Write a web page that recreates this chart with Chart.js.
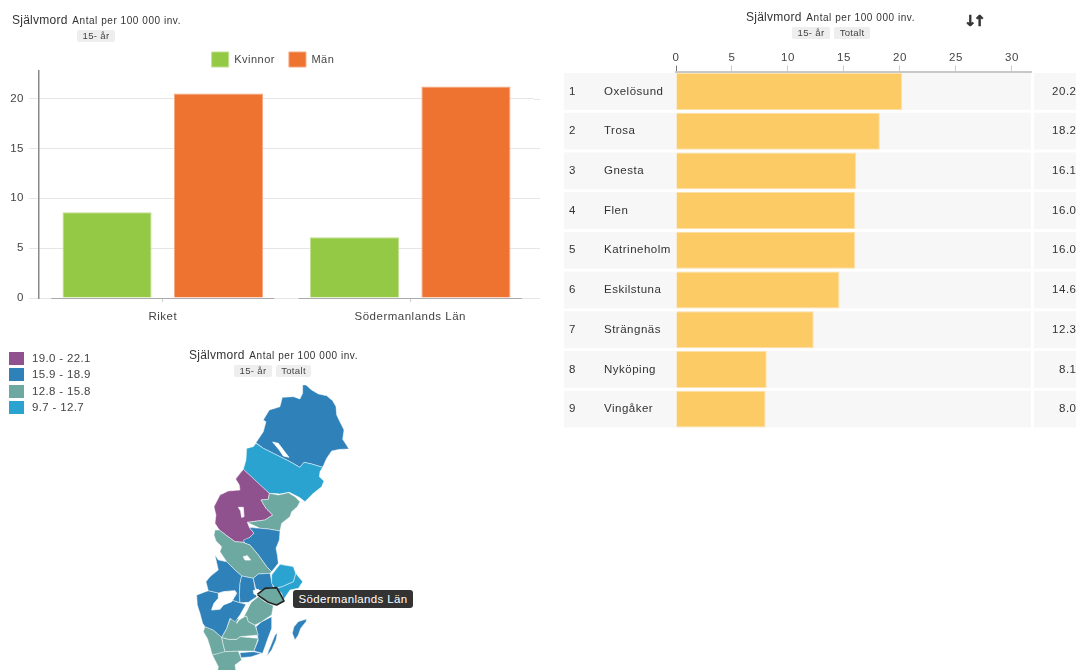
<!DOCTYPE html>
<html><head><meta charset="utf-8">
<script src="https://cdn.jsdelivr.net/npm/chart.js@4/dist/chart.umd.min.js"></script>
<style>
html,body{margin:0;padding:0;background:#fff;overflow:hidden}
#page{position:relative;width:1076px;height:670px;overflow:hidden;font-family:"Liberation Sans",Arial,sans-serif;color:#333;filter:blur(.35px)}
canvas{position:absolute}
.t{position:absolute;white-space:nowrap;letter-spacing:.25px}
.big{font-size:12px}.small{font-size:10px;letter-spacing:.55px}
.chip{position:absolute;background:#eee;border-radius:2px;font-size:9.6px;text-align:center;letter-spacing:.3px;height:12px;line-height:12px;color:#444}
.sw{position:absolute;width:15px;height:13px;left:9px}
.lg{position:absolute;left:32px;font-size:11.5px;letter-spacing:.35px;color:#444}
#tip{position:absolute;left:293px;top:590px;width:120px;height:18px;line-height:18px;background:#333;border-radius:3px;color:#fff;font-size:11.5px;text-align:center;letter-spacing:.35px}
#sort{position:absolute;left:964px;top:12px;font:bold 15px "DejaVu Sans";letter-spacing:-3px;color:#333;-webkit-text-stroke:.6px #333}
</style></head><body>
<div id="page">
<canvas id="bars" width="540" height="300" style="left:0;top:38px"></canvas>
<canvas id="rank" width="516" height="440" style="left:560px;top:0"></canvas>
<canvas id="map" width="240" height="295" style="left:180px;top:375px"></canvas>
<div class="t" style="left:12px;top:10px"><span class="big">Självmord</span> <span class="small">Antal per 100 000 inv.</span></div>
<div class="chip" style="left:77px;top:30px;width:38px">15- år</div>
<div class="t" style="left:746px;top:7px"><span class="big">Självmord</span> <span class="small">Antal per 100 000 inv.</span></div>
<div class="chip" style="left:792px;top:27px;width:38px">15- år</div>
<div class="chip" style="left:834px;top:27px;width:36px">Totalt</div>
<div id="sort">↓↑</div>
<div class="t" style="left:189px;top:345px"><span class="big">Självmord</span> <span class="small">Antal per 100 000 inv.</span></div>
<div class="chip" style="left:234px;top:365px;width:38px">15- år</div>
<div class="chip" style="left:276px;top:365px;width:35px">Totalt</div>
<div id="legend"></div>
<div id="tip">Södermanlands Län</div>
</div>
<script>
// ---------- grouped bars ----------
const barCategories = ["Riket", "Södermanlands Län"];
const kvinnor = [8.6, 6.1];
const man = [20.5, 21.2];
// ---------- ranking ----------
const municipalities = ["Oxelösund","Trosa","Gnesta","Flen","Katrineholm","Eskilstuna","Strängnäs","Nyköping","Vingåker"];
const rates = [20.2,18.2,16.1,16.0,16.0,14.6,12.3,8.1,8.0];
// ---------- map legend ----------
const classLabels = ["19.0 - 22.1","15.9 - 18.9","12.8 - 15.8","9.7 - 12.7"];
const classColors = ["#8f528f","#2f81b9","#6ea9a1","#2aa3d0"];
// ---------- map outlines, in map units ----------
const norrbotten=[[338,-525],[348,-525],[365,-510],[385,-498],[410,-493],[428,-478],[438,-460],[440,-435],[452,-410],[462,-390],[458,-362],[477,-333],[450,-332],[425,-327],[410,-305],[398,-278],[365,-288],[342,-293],[330,-278],[300,-295],[260,-315],[220,-335],[198,-352],[220,-385],[228,-415],[220,-420],[238,-450],[270,-460],[277,-488],[310,-490],[330,-483],[338,-500]];
const vasterbotten=[[198,-350],[220,-335],[260,-315],[300,-295],[330,-278],[342,-293],[365,-288],[398,-278],[390,-265],[388,-250],[402,-237],[395,-220],[370,-200],[345,-175],[328,-188],[298,-203],[270,-198],[238,-200],[210,-225],[160,-272],[168,-300],[170,-335],[190,-340]];
const jamtland=[[160,-272],[238,-200],[235,-182],[213,-180],[228,-155],[248,-135],[225,-120],[172,-113],[178,-98],[192,-80],[178,-67],[160,-53],[135,-55],[110,-73],[88,-90],[75,-110],[78,-135],[72,-160],[90,-195],[115,-207],[150,-210],[148,-225],[137,-243]];
const vasternorrland=[[238,-200],[265,-195],[295,-202],[315,-190],[330,-175],[322,-160],[305,-145],[300,-130],[275,-110],[270,-87],[235,-93],[210,-95],[172,-113],[225,-120],[248,-135],[228,-155],[213,-180],[235,-182]];
const gavleborg=[[178,-98],[210,-95],[235,-93],[270,-87],[268,-60],[258,-35],[262,-15],[265,10],[245,35],[230,20],[205,-15],[180,-45],[165,-50],[160,-60],[178,-67],[192,-80]];
const dalarna=[[75,-90],[88,-90],[110,-73],[135,-55],[160,-53],[165,-50],[180,-45],[205,-15],[230,20],[245,35],[240,40],[205,42],[190,55],[155,48],[135,30],[110,5],[90,-25],[95,-40],[78,-57],[72,-75]];
const varmland=[[75,-15],[85,0],[110,5],[135,30],[155,48],[150,70],[148,105],[150,128],[125,120],[90,100],[55,92],[48,65],[60,50],[85,30]];
const vastraGotaland=[[20,105],[55,92],[90,100],[125,120],[150,128],[168,133],[150,165],[135,185],[120,175],[110,205],[95,232],[70,210],[45,200],[38,190],[30,160],[22,135]];
const orebro=[[155,48],[190,55],[195,85],[200,110],[175,127],[150,128],[148,105],[150,70]];
const vastmanland=[[190,55],[205,42],[240,40],[245,65],[250,80],[235,88],[205,92],[197,85]];
const uppsala=[[245,45],[270,13],[310,20],[317,40],[310,65],[275,80],[255,85],[245,70]];
const stockholm=[[317,40],[338,65],[325,85],[300,90],[280,120],[275,100],[260,85],[275,80],[310,65]];
const sodermanland=[[202,103],[225,85],[260,83],[270,100],[282,123],[260,135],[235,127],[210,110]];
const ostergotland=[[205,110],[225,125],[250,137],[245,165],[215,185],[195,195],[175,185],[170,168],[150,172],[165,150],[180,130]];
const jonkoping=[[120,178],[148,175],[170,168],[175,185],[195,195],[205,225],[150,230],[140,238],[115,238],[95,232],[110,205]];
const kalmar=[[245,170],[245,205],[232,240],[218,280],[192,273],[205,240],[198,200],[215,185]];
const kronoberg=[[95,232],[115,238],[140,238],[150,230],[205,235],[192,273],[150,273],[105,275],[100,255]];
const halland=[[45,200],[70,210],[95,232],[100,255],[105,275],[67,285],[60,260],[52,235],[40,215]];
const blekinge=[[150,278],[190,275],[215,280],[185,290],[153,293]];
const skane=[[67,285],[95,275],[145,273],[155,300],[135,315],[140,345],[80,345],[85,320]];
const gotland=[[350,177],[325,185],[312,200],[307,220],[315,240],[325,225],[332,205],[348,185]];
const oland=[[262,220],[255,225],[235,275],[232,287],[245,270],[258,240]];
const lakeNorr=[[248,-354],[265,-350],[280,-330],[297,-308],[280,-312],[268,-330]];
const lakeJamt=[[145,-158],[160,-158],[162,-130],[155,-128],[152,-147]];
const lakeDala=[[160,-10],[172,-13],[182,0],[165,0]];
const lakeVanern=[[100,95],[135,92],[140,100],[125,125],[100,135],[90,148],[65,150],[72,130],[85,115],[85,100]];
const lakeVattern=[[182,128],[165,150],[150,170],[140,190],[147,180],[160,172],[172,150]];
const lakeMalaren=[[190,92],[205,88],[215,100],[205,107],[192,102]];

const [PURPLE,BLUE,TEAL,LIGHT]=classColors;
const regions=[
 [sodermanland,TEAL,"#222",1.6],
 [lakeMalaren,"#fff"],[lakeVattern,"#fff"],[lakeVanern,"#fff"],[lakeDala,"#fff"],[lakeJamt,"#fff"],[lakeNorr,"#fff"],
 [uppsala,LIGHT],[stockholm,LIGHT],[vastmanland,BLUE],[orebro,BLUE],[varmland,BLUE],[vastraGotaland,BLUE],
 [ostergotland,TEAL],[jonkoping,TEAL],[kalmar,BLUE],[kronoberg,TEAL],[halland,TEAL],[blekinge,BLUE],[skane,TEAL],[gotland,BLUE],[oland,BLUE],
 [dalarna,TEAL],[gavleborg,BLUE],[vasternorrland,TEAL],[jamtland,PURPLE],[vasterbotten,LIGHT],[norrbotten,BLUE]
];

Chart.defaults.font.family='"Liberation Sans",Arial,sans-serif';
Chart.defaults.font.size=11;
Chart.defaults.color='#444';
Chart.defaults.animation=false;
const spacing={id:'spacing',beforeDraw(c){c.ctx.letterSpacing='0.5px';}};

// ---------- left chart ----------
const gridTail={id:'gridTail',
 afterLayout(c){const l=c.legend;l.left+=3.5;l.right+=3.5;},
 beforeDatasetsDraw(c){const {ctx}=c,y=c.scales.y,a=c.chartArea;
  ctx.save();ctx.strokeStyle='#e6e6e6';ctx.lineWidth=1;
  y.ticks.forEach(t=>{const p=Math.round(y.getPixelForValue(t.value))+.5;ctx.beginPath();ctx.moveTo(a.right,p);ctx.lineTo(540,p);ctx.stroke();});
  ctx.restore();},
 afterDatasetsDraw(c){const {ctx}=c,y=c.scales.y,x=c.scales.x;
  ctx.save();ctx.strokeStyle='#aaa';ctx.lineWidth=1;const p=Math.round(y.getPixelForValue(0))+.5;
  barCategories.forEach((_,i)=>{const m=x.getPixelForValue(i);ctx.beginPath();ctx.moveTo(m-111.5,p);ctx.lineTo(m+111.5,p);ctx.stroke();});
  ctx.restore();}
};
new Chart(document.getElementById('bars'),{type:'bar',
 data:{labels:barCategories,datasets:[
  {label:'Kvinnor',data:kvinnor,backgroundColor:'#93c945',borderColor:'#bfe08d',borderWidth:1,categoryPercentage:.9,barPercentage:.8},
  {label:'Män',data:man,backgroundColor:'#ee7230',borderColor:'#f6a67c',borderWidth:1,categoryPercentage:.9,barPercentage:.8}]},
 options:{responsive:false,layout:{padding:{right:6}},
  plugins:{tooltip:{enabled:false},legend:{position:'top',labels:{boxWidth:17,boxHeight:15,padding:14,font:{size:11},color:'#444'}}},
  scales:{
   x:{grid:{drawOnChartArea:false,offset:false,tickLength:4,tickColor:'#ccc'},border:{display:false},ticks:{padding:8,font:{size:11.5},color:'#444'},afterFit(s){s.height=40;}},
   y:{min:0,max:22.76,afterFit(s){s.width=39;},ticks:{stepSize:5,includeBounds:false,padding:5,font:{size:11.5},color:'#444'},grid:{color:'#e6e6e6',tickLength:10},border:{color:'#888',width:1.5}}
  }},
 plugins:[spacing,gridTail,{id:'lfit',beforeInit(c){const o=c.legend.fit;c.legend.fit=function(){o.call(this);this.height=33;};}}]
});

// ---------- right chart ----------
const rowDecor={id:'rowDecor',
 beforeDraw(c){const {ctx}=c,y=c.scales.y,a=c.chartArea;
  ctx.save();ctx.fillStyle='#f7f7f7';
  municipalities.forEach((_,i)=>{const p=y.getPixelForTick(i);ctx.fillRect(4,p-18.4,a.right-4,36.8);ctx.fillRect(474,p-18.4,42,36.8);});
  ctx.restore();},
 afterDraw(c){const {ctx}=c,y=c.scales.y;
  ctx.save();ctx.font='11.5px "Liberation Sans"';ctx.fillStyle='#333';ctx.textBaseline='middle';
  municipalities.forEach((_,i)=>{const p=y.getPixelForTick(i);
   ctx.textAlign='left';ctx.fillText(String(i+1),9,p);
   ctx.textAlign='right';ctx.fillText(rates[i].toFixed(1),516.5,p);});
  ctx.restore();}
};
new Chart(document.getElementById('rank'),{type:'bar',
 data:{labels:municipalities,datasets:[{data:rates,backgroundColor:'#fdcb65',borderColor:'#fee1a6',borderWidth:1,categoryPercentage:.93,barPercentage:1}]},
 options:{indexAxis:'y',responsive:false,layout:{padding:{left:44,right:45,bottom:11}},
  plugins:{legend:{display:false},tooltip:{enabled:false}},
  scales:{
   x:{position:'top',min:0,max:31.7,afterFit(s){s.height=71.6;},
      ticks:{stepSize:5,includeBounds:false,padding:1,maxRotation:0,font:{size:11.5},color:'#444'},
      grid:{drawOnChartArea:false,tickLength:6,tickColor:c=>c.index===0?'#777':'#ccc'},border:{color:'#c8c8c8',width:2}},
   y:{afterFit(s){s.width=72;},grid:{display:false},border:{display:false},ticks:{crossAlign:'far',font:{size:11.5},color:'#333'}}
  }},
 plugins:[spacing,rowDecor]
});

// ---------- map ----------
new Chart(document.getElementById('map'),{type:'scatter',
 data:{datasets:regions.map(([pts,col,bc,bw])=>({
   data:pts.concat([pts[0]]).map(([x,y])=>({x,y})),showLine:true,fill:'shape',
   backgroundColor:col,borderColor:bc||(col==='#fff'?'#fff':'rgba(255,255,255,.6)'),borderWidth:bw||.8,pointRadius:0,tension:.001,borderJoinStyle:'round'}))},
 options:{responsive:false,layout:{padding:0},plugins:{legend:{display:false},tooltip:{enabled:false}},
  scales:{x:{display:false,min:-30,max:690},y:{display:false,min:-555,max:330,reverse:true}}}
});

// ---------- map legend ----------
const lg=document.getElementById('legend');
classLabels.forEach((l,i)=>{const top=352+i*16.3;
 lg.insertAdjacentHTML('beforeend',`<div class="sw" style="top:${top}px;background:${classColors[i]}"></div><div class="lg" style="top:${top}px">${l}</div>`);});
</script>
</body></html>
